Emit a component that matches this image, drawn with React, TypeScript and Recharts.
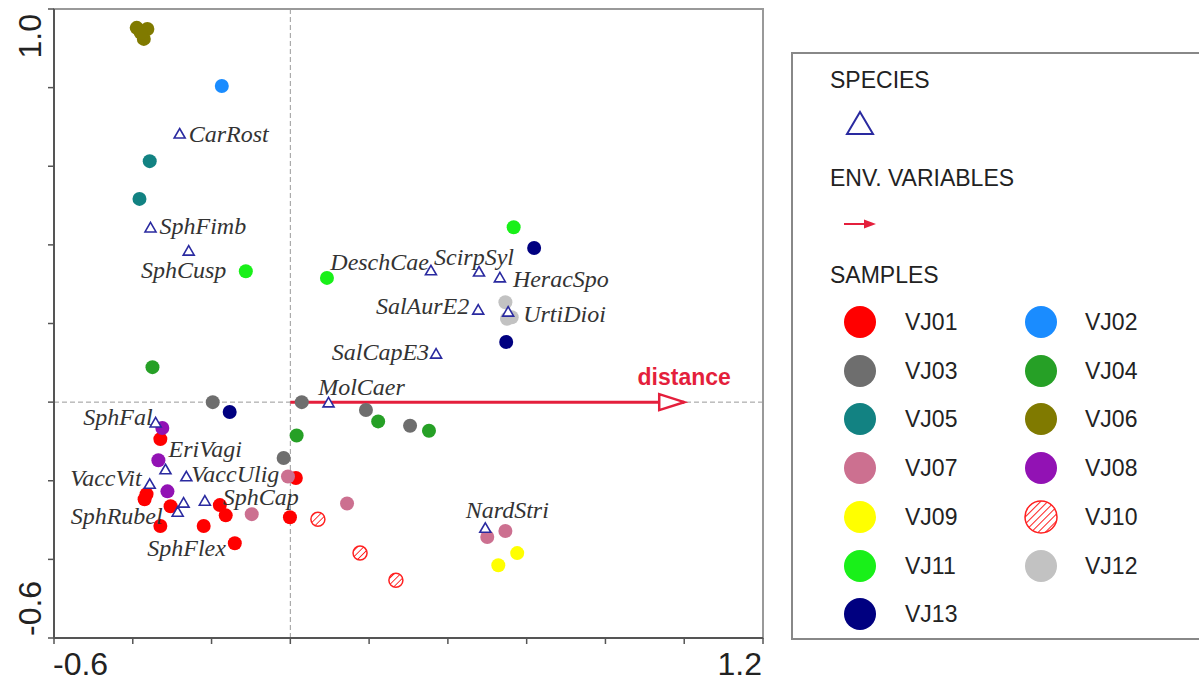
import React from "react";
import { ScatterChart, Scatter, XAxis, YAxis, ReferenceLine, ReferenceArea } from "recharts";

// ---------- data ----------
const xTicks = [-0.6, -0.4, -0.2, 0, 0.2, 0.4, 0.6, 0.8, 1.0, 1.2];
const yTicks = [-0.6, -0.4, -0.2, 0, 0.2, 0.4, 0.6, 0.8, 1.0];
const xTickLabels = ["-0.6", "1.2"];
const yTickLabels = ["-0.6", "1.0"];

const species = [
  { name: "CarRost", x: -0.281, y: 0.682 },
  { name: "SphFimb", x: -0.355, y: 0.443 },
  { name: "SphCusp", x: -0.258, y: 0.384 },
  { name: "SphFal", x: -0.342, y: -0.053 },
  { name: "EriVagi", x: -0.317, y: -0.172 },
  { name: "VaccUlig", x: -0.264, y: -0.19 },
  { name: "VaccVit", x: -0.357, y: -0.209 },
  { name: "SphCap", x: -0.217, y: -0.252 },
  { name: "SphFlex", x: -0.271, y: -0.257 },
  { name: "SphRubel", x: -0.286, y: -0.28 },
  { name: "DeschCae", x: 0.357, y: 0.334 },
  { name: "ScirpSyl", x: 0.479, y: 0.331 },
  { name: "HeracSpo", x: 0.532, y: 0.316 },
  { name: "SalAurE2", x: 0.477, y: 0.234 },
  { name: "UrtiDioi", x: 0.553, y: 0.229 },
  { name: "SalCapE3", x: 0.37, y: 0.122 },
  { name: "MolCaer", x: 0.097, y: -0.002 },
  { name: "NardStri", x: 0.495, y: -0.321 },
];

const envVariables = [{ name: "distance", x: 1.0, y: 0 }];

const vj01 = [
  { x: -0.33, y: -0.094 }, { x: -0.365, y: -0.234 }, { x: -0.37, y: -0.247 },
  { x: -0.304, y: -0.265 }, { x: -0.33, y: -0.315 }, { x: -0.22, y: -0.315 },
  { x: -0.179, y: -0.262 }, { x: -0.164, y: -0.288 }, { x: -0.141, y: -0.359 },
  { x: -0.001, y: -0.293 }, { x: 0.014, y: -0.193 },
];
const vj02 = [{ x: -0.174, y: 0.804 }];
const vj03 = [
  { x: -0.197, y: 0.0 }, { x: 0.029, y: 0.0 }, { x: 0.192, y: -0.02 },
  { x: 0.304, y: -0.06 }, { x: -0.017, y: -0.142 },
];
const vj04 = [
  { x: -0.35, y: 0.089 }, { x: 0.223, y: -0.049 }, { x: 0.352, y: -0.073 }, { x: 0.016, y: -0.085 },
];
const vj05 = [{ x: -0.357, y: 0.613 }, { x: -0.383, y: 0.517 }];
const vj06 = [
  { x: -0.39, y: 0.952 }, { x: -0.363, y: 0.949 }, { x: -0.372, y: 0.924 }, { x: -0.38, y: 0.94 },
];
const vj07 = [
  { x: -0.098, y: -0.285 }, { x: -0.006, y: -0.189 }, { x: 0.144, y: -0.258 },
  { x: 0.5, y: -0.343 }, { x: 0.546, y: -0.328 },
];
const vj08 = [{ x: -0.325, y: -0.066 }, { x: -0.335, y: -0.148 }, { x: -0.312, y: -0.227 }];
const vj09 = [{ x: 0.528, y: -0.415 }, { x: 0.576, y: -0.384 }];
const vj10 = [{ x: 0.07, y: -0.298 }, { x: 0.177, y: -0.384 }, { x: 0.268, y: -0.453 }];
const vj11 = [{ x: -0.113, y: 0.333 }, { x: 0.093, y: 0.316 }, { x: 0.567, y: 0.445 }];
const vj12 = [{ x: 0.546, y: 0.254 }, { x: 0.55, y: 0.212 }, { x: 0.562, y: 0.216 }];
const vj13 = [{ x: -0.154, y: -0.025 }, { x: 0.619, y: 0.392 }, { x: 0.548, y: 0.153 }];

const sampleNames = ["VJ01", "VJ02", "VJ03", "VJ04", "VJ05", "VJ06", "VJ07", "VJ08", "VJ09", "VJ10", "VJ11", "VJ12", "VJ13"];
const sampleData = [vj01, vj02, vj03, vj04, vj05, vj06, vj07, vj08, vj09, vj10, vj11, vj12, vj13];

// ---------- styles ----------
const sampleFill: Record<string, string> = {
  VJ01: "#ff0000",
  VJ02: "#1a8cff",
  VJ03: "#6e6e6e",
  VJ04: "#26a026",
  VJ05: "#128282",
  VJ06: "#807a00",
  VJ07: "#cc7090",
  VJ08: "#9212b4",
  VJ09: "#ffff00",
  VJ10: "url(#hatchVJ10)",
  VJ11: "#19f019",
  VJ12: "#c2c2c2",
  VJ13: "#000080",
};

// label placement relative to triangle: dx, dy, anchor
const labelPlacement: Record<string, [number, number, string]> = {
  CarRost: [9, 0, "start"],
  SphFimb: [9, -2, "start"],
  SphCusp: [-5, 19, "middle"],
  SphFal: [-3, -6, "end"],
  EriVagi: [3, -21, "start"],
  VaccUlig: [5, -3, "start"],
  VaccVit: [-8, -6, "end"],
  SphCap: [18, -4, "start"],
  SphFlex: [3, 45, "middle"],
  SphRubel: [-15, 4, "end"],
  DeschCae: [-2, -9, "end"],
  ScirpSyl: [-5, -15, "middle"],
  HeracSpo: [13, 1, "start"],
  SalAurE2: [-9, -4, "end"],
  UrtiDioi: [15, 2, "start"],
  SalCapE3: [-7, -2, "end"],
  MolCaer: [33, -16, "middle"],
  NardStri: [22, -18, "middle"],
};

const TRI = "#2a2aa0";
const RED = "#e41f3c";
const AXIS = "#555";
const FRAME = "#999";
const SANS = "Arial, 'Liberation Sans', sans-serif";
const SERIF = "'Times New Roman', 'Liberation Serif', serif";

const XTick = (p: any) => {
  const v = p.payload.value;
  if (Math.abs(v - xTicks[0]) < 1e-6)
    return (
      <text x={p.x - 1} y={p.y + 29} textAnchor="start" fontSize={32} fontFamily={SANS} fill="#222">
        {xTickLabels[0]}
      </text>
    );
  if (Math.abs(v - xTicks[xTicks.length - 1]) < 1e-6)
    return (
      <text x={p.x - 1} y={p.y + 29} textAnchor="end" fontSize={32} fontFamily={SANS} fill="#222">
        {xTickLabels[1]}
      </text>
    );
  return <g />;
};

const YTick = (p: any) => {
  const v = p.payload.value;
  if (Math.abs(v - yTicks[0]) < 1e-6)
    return (
      <text transform={`translate(${p.x - 5},${p.y - 2}) rotate(-90)`} textAnchor="start" fontSize={32} fontFamily={SANS} fill="#222">
        {yTickLabels[0]}
      </text>
    );
  if (Math.abs(v - yTicks[yTicks.length - 1]) < 1e-6)
    return (
      <text transform={`translate(${p.x - 5},${p.y + 5}) rotate(-90)`} textAnchor="end" fontSize={32} fontFamily={SANS} fill="#222">
        {yTickLabels[1]}
      </text>
    );
  return <g />;
};

const makeCircle = (fill: string, hatched: boolean) => (p: any) => (
  <circle
    cx={p.cx}
    cy={p.cy}
    r={7}
    fill={fill}
    stroke={hatched ? "#ff2020" : "none"}
    strokeWidth={hatched ? 1.5 : 0}
  />
);

const SpeciesShape = (p: any) => {
  const { cx, cy, payload } = p;
  const [dx, dy, anchor] = labelPlacement[payload.name] || [8, 0, "start"];
  return (
    <g>
      <polygon
        points={`${cx},${cy - 5.5} ${cx + 5.5},${cy + 4} ${cx - 5.5},${cy + 4}`}
        fill="white"
        stroke={TRI}
        strokeWidth={1.6}
      />
      <text
        x={cx + dx}
        y={cy + dy}
        textAnchor={anchor as any}
        dominantBaseline="central"
        fontFamily={SERIF}
        fontStyle="italic"
        fontSize={24}
        fill="#333"
      >
        {payload.name}
      </text>
    </g>
  );
};

const EnvShape = (p: any) => {
  const { cx, cy, payload } = p;
  return (
    <g>
      <polygon
        points={`${cx},${cy} ${cx - 25},${cy - 8} ${cx - 25},${cy + 8}`}
        fill="white"
        stroke={RED}
        strokeWidth={2.5}
        strokeLinejoin="miter"
      />
      <text x={cx} y={cy - 17} textAnchor="middle" fontFamily={SANS} fontWeight="bold" fontSize={23} fill={RED}>
        {payload.name}
      </text>
    </g>
  );
};

const Legend = () => {
  const rowsY = [322, 371, 419, 468, 517, 566, 614];
  return (
    <svg width={1199} height={684} style={{ position: "absolute", left: 0, top: 0, pointerEvents: "none" }}>
      <defs>
        <pattern id="hatchLegend" width="5" height="5" patternUnits="userSpaceOnUse" patternTransform="rotate(45)">
          <rect width="5" height="5" fill="white" />
          <line x1="0" y1="0" x2="0" y2="5" stroke="#ff2020" strokeWidth="2" />
        </pattern>
      </defs>
      <rect x={792} y={53} width={430} height={586} fill="none" stroke="#888" strokeWidth={2} />
      <text x={830} y={88} fontFamily={SANS} fontSize={23} fill="#222">SPECIES</text>
      <polygon points="860,112 873,134 847,134" fill="white" stroke={TRI} strokeWidth={2} />
      <text x={830} y={186} fontFamily={SANS} fontSize={23} fill="#222">ENV. VARIABLES</text>
      <line x1={844} y1={224} x2={866} y2={224} stroke={RED} strokeWidth={2} />
      <polygon points="876,224 864,219.5 864,228.5" fill={RED} />
      <text x={830} y={283} fontFamily={SANS} fontSize={23} fill="#222">SAMPLES</text>
      {sampleNames.map((n, i) => {
        const col = i % 2;
        const row = Math.floor(i / 2);
        const cx = col === 0 ? 860 : 1041;
        const tx = col === 0 ? 905 : 1085;
        const cy = rowsY[row];
        const hatched = n === "VJ10";
        return (
          <g key={n}>
            <circle
              cx={cx}
              cy={cy}
              r={16}
              fill={hatched ? "url(#hatchLegend)" : sampleFill[n]}
              stroke={hatched ? "#ff2020" : "none"}
              strokeWidth={1.5}
            />
            <text x={tx} y={cy + 8} fontFamily={SANS} fontSize={23} fill="#222">{n}</text>
          </g>
        );
      })}
    </svg>
  );
};

export default function App() {
  return (
    <div style={{ position: "absolute", left: 0, top: 0, width: 1199, height: 684, background: "white" }}>
      <ScatterChart width={1199} height={684} margin={{ top: 9, right: 436, bottom: 0, left: 0 }}>
        <defs>
          <pattern id="hatchVJ10" width="4.5" height="4.5" patternUnits="userSpaceOnUse" patternTransform="rotate(45)">
            <rect width="4.5" height="4.5" fill="white" />
            <line x1="0" y1="0" x2="0" y2="4.5" stroke="#ff2020" strokeWidth="1.8" />
          </pattern>
        </defs>
        <XAxis
          type="number"
          dataKey="x"
          domain={[-0.6, 1.2]}
          ticks={xTicks}
          interval={0}
          allowDataOverflow
          height={46}
          tickSize={6}
          tickMargin={2}
          tickLine={{ stroke: AXIS, strokeWidth: 1.5 }}
          axisLine={{ stroke: AXIS, strokeWidth: 2 }}
          tick={<XTick />}
        />
        <YAxis
          type="number"
          dataKey="y"
          domain={[-0.6, 1.0]}
          ticks={yTicks}
          interval={0}
          allowDataOverflow
          width={54}
          tickSize={6}
          tickMargin={2}
          tickLine={{ stroke: AXIS, strokeWidth: 1.5 }}
          axisLine={{ stroke: AXIS, strokeWidth: 2 }}
          tick={<YTick />}
        />
        <ReferenceArea x1={-0.6} x2={1.2} y1={-0.6} y2={1.0} fill="none" stroke={FRAME} strokeWidth={2} ifOverflow="visible" />
        <ReferenceLine x={0} stroke="#9a9a9a" strokeDasharray="5 3" />
        <ReferenceLine y={0} stroke="#9a9a9a" strokeDasharray="5 3" />
        <ReferenceLine
          segment={[{ x: 0, y: 0 }, { x: envVariables[0].x, y: envVariables[0].y }]}
          stroke={RED}
          strokeWidth={3}
        />
        {sampleNames.map((n, i) => (
          <Scatter
            key={n}
            name={n}
            data={sampleData[i]}
            isAnimationActive={false}
            shape={makeCircle(sampleFill[n], n === "VJ10")}
          />
        ))}
        <Scatter name="species" data={species} isAnimationActive={false} shape={SpeciesShape} />
        <Scatter name="env" data={envVariables} isAnimationActive={false} shape={EnvShape} />
      </ScatterChart>
      <Legend />
    </div>
  );
}
